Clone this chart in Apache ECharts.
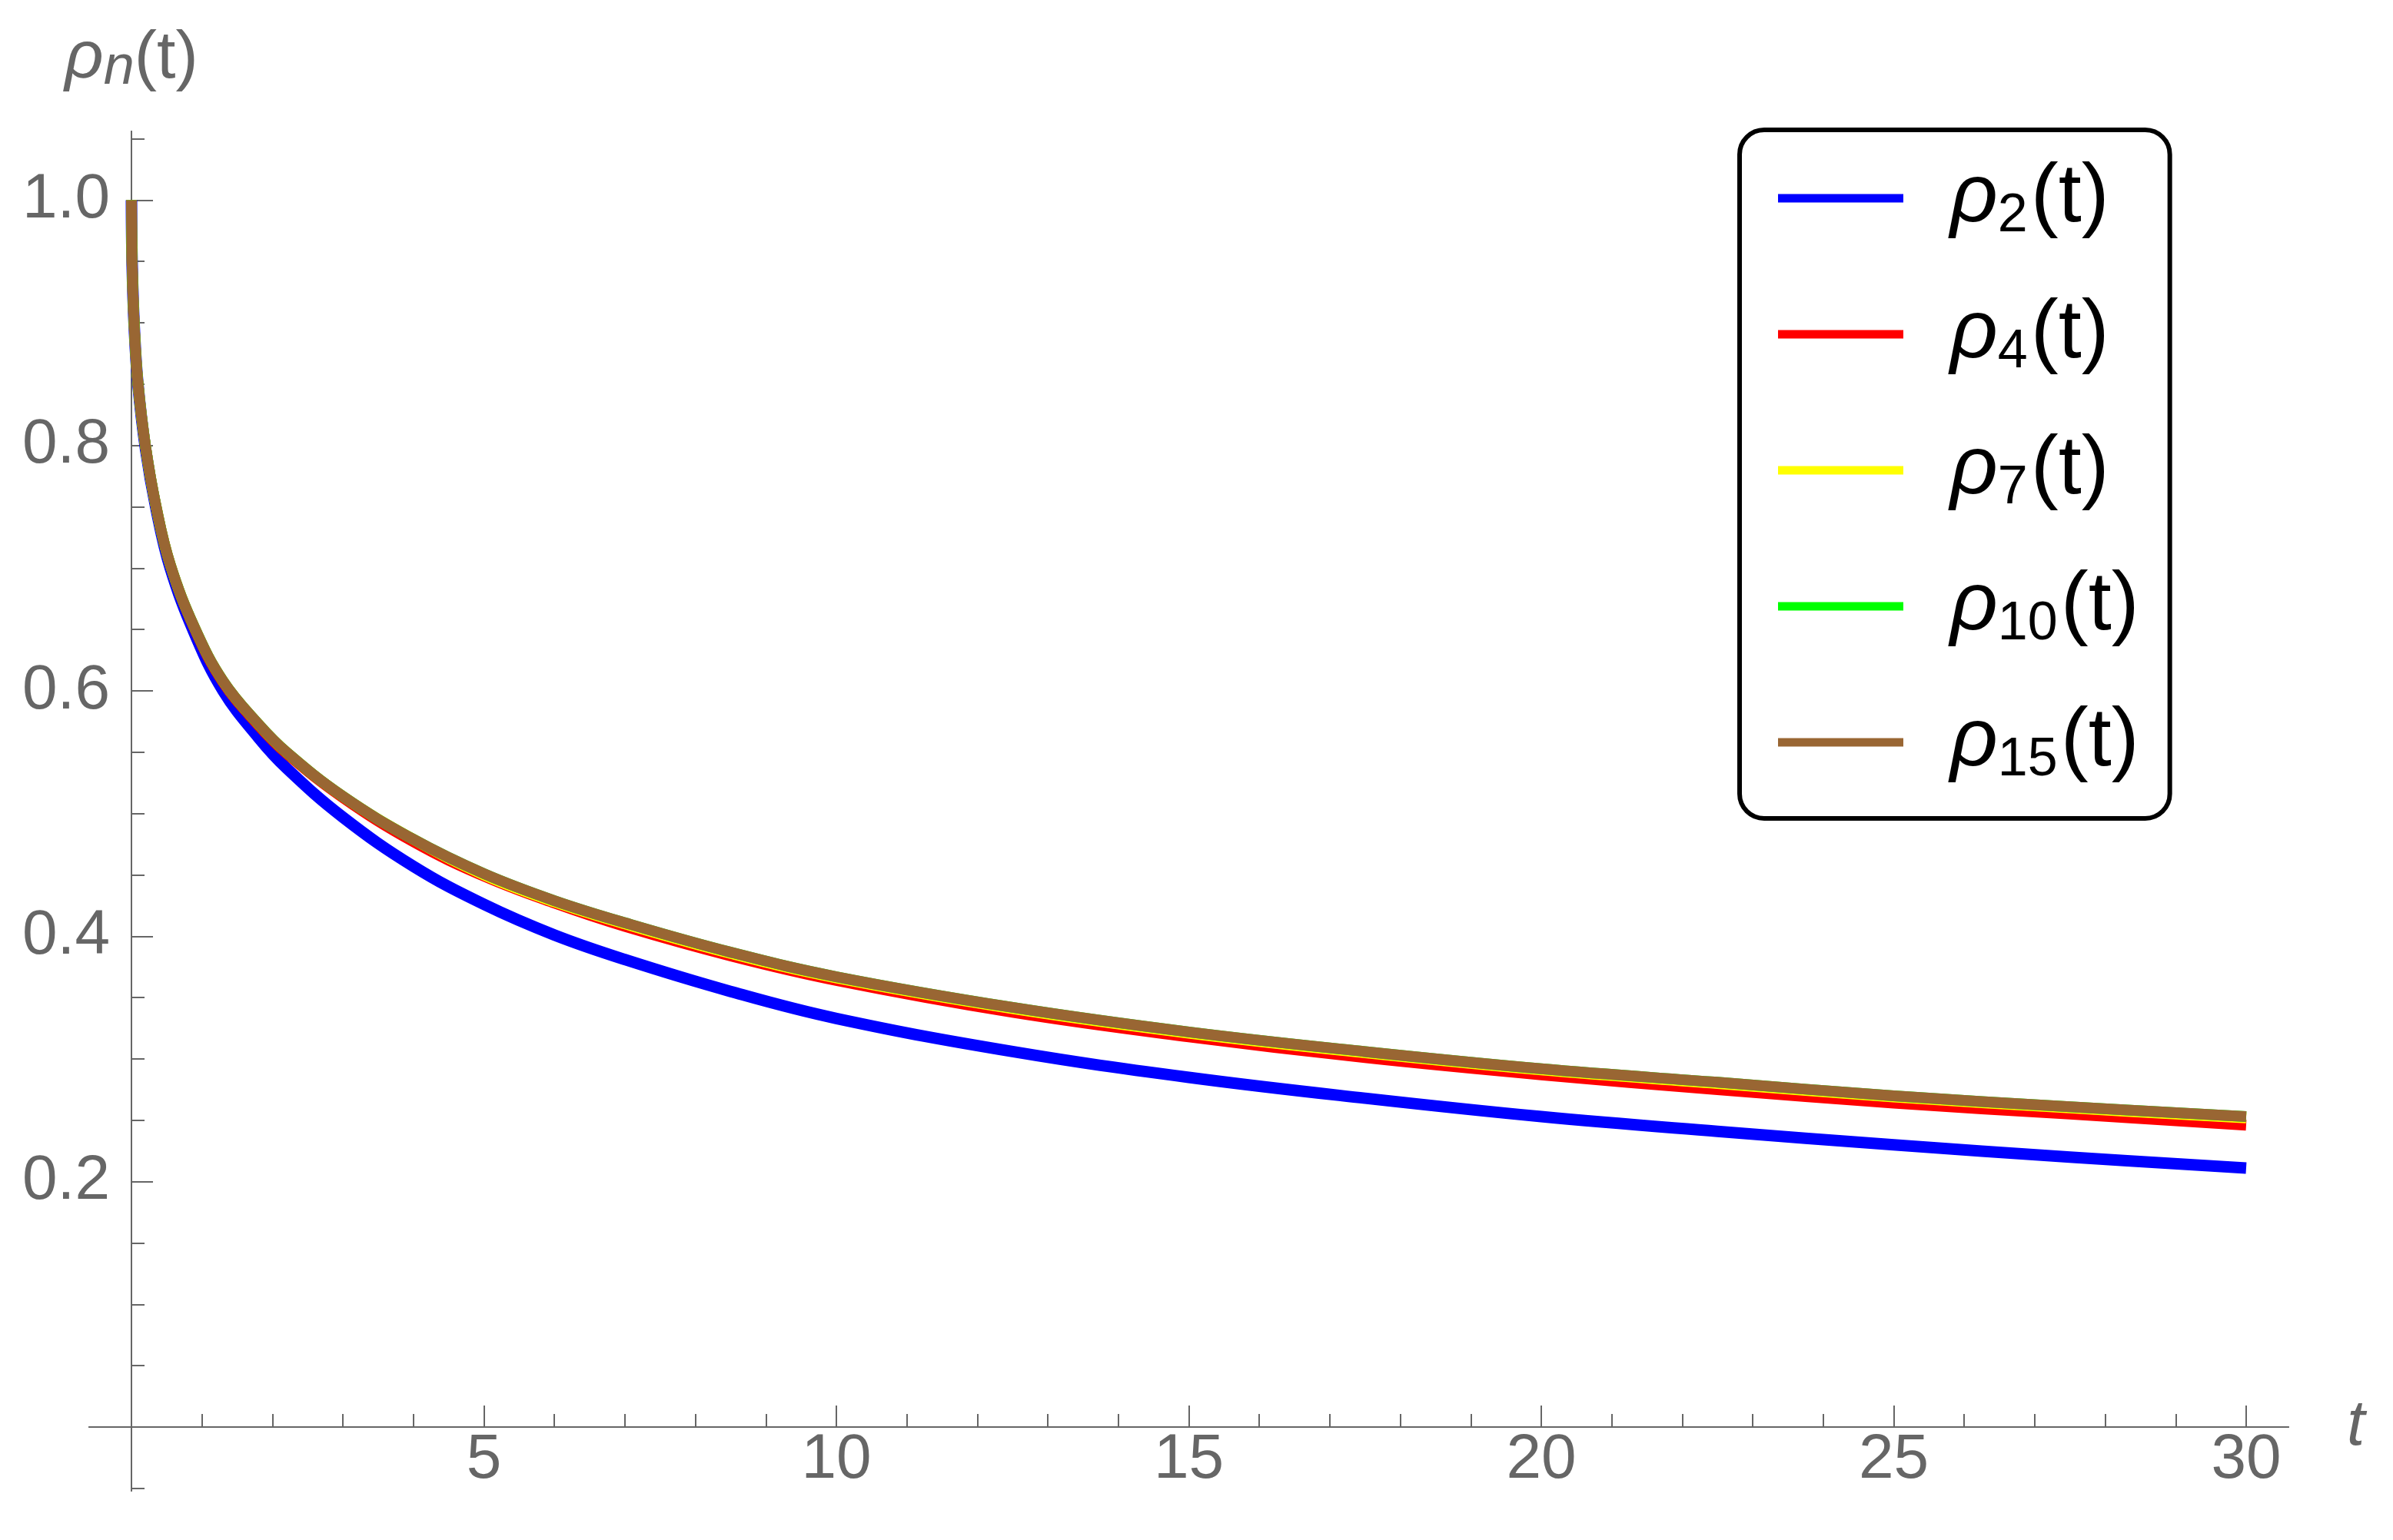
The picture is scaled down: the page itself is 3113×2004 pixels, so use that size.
<!DOCTYPE html>
<html>
<head>
<meta charset="utf-8">
<script src="https://cdn.jsdelivr.net/npm/echarts@6/dist/echarts.min.js"></script>
<style>
  html, body { margin: 0; padding: 0; background: #ffffff; }
  #chart { width: 3113px; height: 2004px; }
</style>
</head>
<body>
<div id="chart"></div>
<script>
// ---- data ----
const t = [0, 0.01, 0.04, 0.09, 0.2, 0.35, 0.55, 0.9, 1.3, 1.8, 2.2, 3, 4, 5, 6, 7, 8.5, 10, 12.5, 15, 17.5, 20, 22.5, 25, 27.5, 30];
const rho2  = [1.000, 0.947, 0.896, 0.851, 0.797, 0.748, 0.700, 0.646, 0.600, 0.562, 0.537, 0.497, 0.457, 0.426, 0.401, 0.381, 0.355, 0.333, 0.306, 0.285, 0.268, 0.253, 0.241, 0.230, 0.220, 0.211];
const rho4  = [1.000, 0.947, 0.897, 0.852, 0.799, 0.750, 0.703, 0.650, 0.607, 0.572, 0.549, 0.513, 0.477, 0.449, 0.427, 0.408, 0.384, 0.364, 0.338, 0.318, 0.301, 0.287, 0.275, 0.264, 0.255, 0.246];
const rho7  = [1.000, 0.947, 0.897, 0.852, 0.799, 0.750, 0.703, 0.651, 0.608, 0.573, 0.550, 0.514, 0.479, 0.450, 0.428, 0.410, 0.386, 0.366, 0.341, 0.321, 0.305, 0.291, 0.280, 0.269, 0.260, 0.252];
const rho10 = [1.000, 0.947, 0.897, 0.852, 0.799, 0.750, 0.703, 0.651, 0.608, 0.573, 0.550, 0.514, 0.479, 0.451, 0.429, 0.411, 0.387, 0.367, 0.342, 0.322, 0.306, 0.292, 0.281, 0.270, 0.261, 0.253];
const rho15 = [1.000, 0.947, 0.897, 0.852, 0.799, 0.750, 0.703, 0.651, 0.608, 0.573, 0.550, 0.514, 0.479, 0.451, 0.429, 0.411, 0.387, 0.367, 0.342, 0.322, 0.306, 0.292, 0.281, 0.270, 0.261, 0.253];

const seriesNames = ['ρ2(t)', 'ρ4(t)', 'ρ7(t)', 'ρ10(t)', 'ρ15(t)'];
const subscripts  = ['2', '4', '7', '10', '15'];

const xMajorTicks = [5, 10, 15, 20, 25, 30];
const xMinorTicks = [1, 2, 3, 4, 6, 7, 8, 9, 11, 12, 13, 14, 16, 17, 18, 19, 21, 22, 23, 24, 26, 27, 28, 29];
const yMajorTicks = [0.2, 0.4, 0.6, 0.8, 1.0];
const yMinorTicks = [-0.05, 0.05, 0.1, 0.15, 0.25, 0.3, 0.35, 0.45, 0.5, 0.55, 0.65, 0.7, 0.75, 0.85, 0.9, 0.95, 1.05];

// ---- styling ----
const seriesValues = [rho2, rho4, rho7, rho10, rho15];
const colors = ['#0000ff', '#ff0000', '#ffff00', '#00ff00', '#996633'];
const widths = [15, 14, 14, 14, 14];
const axisGray = '#666666';
const FONT = 'Liberation Sans';

const X_MIN = -0.6, X_MAX = 30.6, Y_MIN = -0.052, Y_MAX = 1.056;
const gridBox = { left: 116, right: 136, top: 171, bottom: 64, outerBoundsMode: 'none', containLabel: false };

const chart = echarts.init(document.getElementById('chart'), null, { renderer: 'canvas' });

const series = seriesNames.map((name, i) => ({
  name: name,
  type: 'line',
  xAxisIndex: 0,
  yAxisIndex: 0,
  data: t.map((x, k) => [x, seriesValues[i][k]]),
  showSymbol: false,
  symbol: 'none',
  smooth: 0.4,
  color: colors[i],
  itemStyle: { color: colors[i] },
  lineStyle: { color: colors[i], width: widths[i], cap: 'butt', join: 'round' },
  emphasis: { disabled: true },
  animation: false,
  z: 2 + i
}));

const option = {
  backgroundColor: '#ffffff',
  animation: false,
  grid: [Object.assign({}, gridBox), Object.assign({}, gridBox)],
  legend: {
    show: true,
    data: seriesNames,
    orient: 'vertical',
    left: 2263,
    top: 169,
    icon: 'rect',
    itemWidth: 163,
    itemHeight: 11,
    itemGap: 64,
    padding: [35, 40, 40, 50],
    backgroundColor: '#ffffff',
    borderColor: '#000000',
    borderWidth: 6,
    borderRadius: 32,
    selectedMode: false,
    itemStyle: { borderWidth: 0 },
    formatter: function (name) {
      const i = seriesNames.indexOf(name);
      return '{r|ρ}{s|' + subscripts[i] + '}{p|(t)}';
    },
    textStyle: {
      color: '#000000',
      fontFamily: FONT,
      padding: [0, 0, 0, 56],
      rich: {
        r: { fontFamily: FONT, fontSize: 108, fontStyle: 'italic', lineHeight: 118, color: '#000' },
        s: { fontFamily: FONT, fontSize: 70, lineHeight: 52, verticalAlign: 'bottom', color: '#000' },
        p: { fontFamily: FONT, fontSize: 108, lineHeight: 118, color: '#000', padding: [0, 0, 0, 4] }
      }
    }
  },
  xAxis: [
    {
      type: 'value', gridIndex: 0, min: X_MIN, max: X_MAX,
      name: 't', nameLocation: 'end', nameGap: 76,
      nameTextStyle: { fontFamily: FONT, fontSize: 84, fontStyle: 'italic', color: axisGray },
      axisLine: { show: true, onZero: true, lineStyle: { color: axisGray, width: 2 } },
      axisTick: { show: true, inside: true, length: 28, customValues: xMajorTicks, lineStyle: { color: axisGray, width: 2 } },
      axisLabel: { show: true, customValues: xMajorTicks, margin: -81, fontFamily: FONT, fontSize: 82, color: axisGray },
      splitLine: { show: false }, minorTick: { show: false }
    },
    {
      type: 'value', gridIndex: 1, min: X_MIN, max: X_MAX,
      axisLine: { show: true, onZero: true, lineStyle: { color: axisGray, width: 2 } },
      axisTick: { show: true, inside: true, length: 17, customValues: xMinorTicks, lineStyle: { color: axisGray, width: 2 } },
      axisLabel: { show: false },
      splitLine: { show: false }, minorTick: { show: false }
    }
  ],
  yAxis: [
    {
      type: 'value', gridIndex: 0, min: Y_MIN, max: Y_MAX,
      name: '{r|ρ}{s|n}{p|(t)}', nameLocation: 'end', nameGap: 46,
      nameTextStyle: {
        color: axisGray, fontFamily: FONT, align: 'center',
        rich: {
          r: { fontFamily: FONT, fontSize: 88, fontStyle: 'italic', lineHeight: 96, color: axisGray },
          s: { fontFamily: FONT, fontSize: 72, fontStyle: 'italic', lineHeight: 50, verticalAlign: 'bottom', color: axisGray },
          p: { fontFamily: FONT, fontSize: 88, lineHeight: 96, color: axisGray }
        }
      },
      axisLine: { show: true, onZero: true, lineStyle: { color: axisGray, width: 2 } },
      axisTick: { show: true, inside: true, length: 28, customValues: yMajorTicks, lineStyle: { color: axisGray, width: 2 } },
      axisLabel: {
        show: true, customValues: yMajorTicks, margin: -27, fontFamily: FONT, fontSize: 82, color: axisGray,
        formatter: function (v) { return v.toFixed(1); }
      },
      splitLine: { show: false }, minorTick: { show: false }
    },
    {
      type: 'value', gridIndex: 1, min: Y_MIN, max: Y_MAX,
      axisLine: { show: true, onZero: true, lineStyle: { color: axisGray, width: 2 } },
      axisTick: { show: true, inside: true, length: 17, customValues: yMinorTicks, lineStyle: { color: axisGray, width: 2 } },
      axisLabel: { show: false },
      splitLine: { show: false }, minorTick: { show: false }
    }
  ],
  series: series
};

chart.setOption(option);
</script>
</body>
</html>
